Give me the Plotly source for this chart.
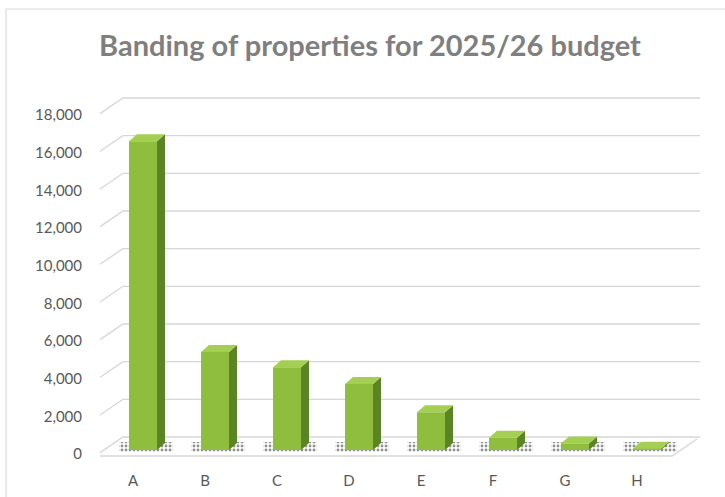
import plotly.graph_objects as go

# Council tax bands and number of properties in each
bands = ["A", "B", "C", "D", "E", "F", "G", "H"]
properties = [16400, 5200, 4400, 3500, 2000, 650, 350, 60]
y_ticks = list(range(0, 18001, 2000))
y_tick_text = [f"{v:,}" for v in y_ticks]

# --- plot geometry (pixels) used to fake a 3-D column look ---
W, H = 725, 497
PL, PR, PT, PB = 100, 700, 92, 462          # plot area edges
CAT_PX = 72.0                                # px per category
X0_PX = 133.0                                # pixel of category 0 label
Y0_PX, YTOP_PX, YTOP_VAL = 454.0, 115.0, 18000.0
PX_PER_UNIT = (Y0_PX - YTOP_PX) / YTOP_VAL

def dx(px):
    return px / CAT_PX

def dy(px):
    return px / PX_PER_UNIT

x_range = [(PL - X0_PX) / CAT_PX, (PR - X0_PX) / CAT_PX]
y_range = [-(PB - Y0_PX) / PX_PER_UNIT, (Y0_PX - PT) / PX_PER_UNIT]

wall_dx, wall_dy = dx(25), dy(17)            # depth of the back wall
bar_shift = dx(10)                           # bars sit a little behind the front edge
bar_w = dx(28)
bar_base = dy(4)
side_dx, side_dy = dx(8), dy(7)              # depth of each column

FRONT = "#8fbd3d"
SIDE = "#5b8425"
CAP = "#a5cf52"
GRID = "#d6d6d6"
TEXT = "#595959"

fig = go.Figure()

# dotted floor shadow under each column
fig.add_trace(go.Bar(
    x=[i + bar_shift + dx(3) for i in range(len(bands))],
    y=[dy(10)] * len(bands),
    base=[dy(2)] * len(bands),
    width=bar_w + dx(26),
    marker=dict(color="rgba(0,0,0,0)",
                line=dict(width=0),
                pattern=dict(shape=".", fgcolor="#222222", bgcolor="rgba(0,0,0,0)",
                             size=4, solidity=0.4)),
    hoverinfo="skip", showlegend=False,
))

# front faces of the columns
fig.add_trace(go.Bar(
    x=[i + bar_shift for i in range(len(bands))],
    y=properties,
    base=[bar_base] * len(bands),
    width=bar_w,
    marker=dict(color=FRONT, line=dict(width=0)),
    customdata=bands,
    hovertemplate="Band %{customdata}: %{y:,}<extra></extra>",
    showlegend=False,
))

# side and top faces
for i, v in enumerate(properties):
    xl = i + bar_shift - bar_w / 2
    xr = i + bar_shift + bar_w / 2
    b, t = bar_base, bar_base + v
    fig.add_trace(go.Scatter(
        x=[xr, xr + side_dx, xr + side_dx, xr, xr],
        y=[b, b + side_dy, t + side_dy, t, b],
        fill="toself", fillcolor=SIDE, mode="lines",
        line=dict(width=0, color=SIDE), hoverinfo="skip", showlegend=False,
    ))
    fig.add_trace(go.Scatter(
        x=[xl, xr, xr + side_dx, xl + side_dx, xl],
        y=[t, t, t + side_dy, t + side_dy, t],
        fill="toself", fillcolor=CAP, mode="lines",
        line=dict(width=0, color=CAP), hoverinfo="skip", showlegend=False,
    ))

# gridlines on side and back walls, floor edge, chart border
shapes = []
xl_wall = x_range[0] - dx(2)
for v in y_ticks:
    path = (f"M {xl_wall},{v} L {xl_wall + wall_dx},{v + wall_dy} "
            f"L {x_range[1]},{v + wall_dy}")
    shapes.append(dict(type="path", path=path, xref="x", yref="y", layer="below",
                       line=dict(color=GRID, width=1.3)))
floor_y = -dy(2)
floor_right = x_range[1] - dx(28)
shapes.append(dict(type="path",
                   path=f"M {xl_wall},{floor_y} L {floor_right},{floor_y} "
                        f"L {floor_right + wall_dx},{floor_y + wall_dy}",
                   xref="x", yref="y", layer="below",
                   line=dict(color=GRID, width=1.3)))
shapes.append(dict(type="rect", xref="paper", yref="paper",
                   x0=(6 - PL) / (PR - PL), x1=(W + 20 - PL) / (PR - PL),
                   y0=(PB - (H + 20)) / (PB - PT), y1=(PB - 9) / (PB - PT),
                   line=dict(color="#d9d9d9", width=1.2), layer="below"))

fig.update_layout(
    width=W, height=H,
    margin=dict(l=PL, r=W - PR, t=PT, b=H - PB, autoexpand=False),
    paper_bgcolor="white", plot_bgcolor="white",
    barmode="overlay",
    font=dict(family="Lato, 'Open Sans', sans-serif", color=TEXT, size=15),
    title=dict(text="<b>Banding of properties for 2025/26 budget</b>",
               x=370 / W, xanchor="center", y=1 - 46 / H, yanchor="middle",
               xref="container", yref="container",
               font=dict(family="Lato, 'Open Sans', sans-serif", size=29, color="#7f7f7f")),
    xaxis=dict(range=x_range, tickvals=list(range(len(bands))), ticktext=bands,
               showgrid=False, zeroline=False, showline=False, automargin=False,
               ticks="outside", ticklen=5, tickcolor="rgba(0,0,0,0)",
               tickfont=dict(size=15, color=TEXT), fixedrange=True),
    yaxis=dict(range=y_range, tickvals=y_ticks, ticktext=y_tick_text,
               showgrid=False, zeroline=False, showline=False, automargin=False,
               ticks="outside", ticklen=14, tickcolor="rgba(0,0,0,0)",
               tickfont=dict(size=15, color=TEXT), fixedrange=True),
    shapes=shapes,
)

fig.write_html("out.html")
